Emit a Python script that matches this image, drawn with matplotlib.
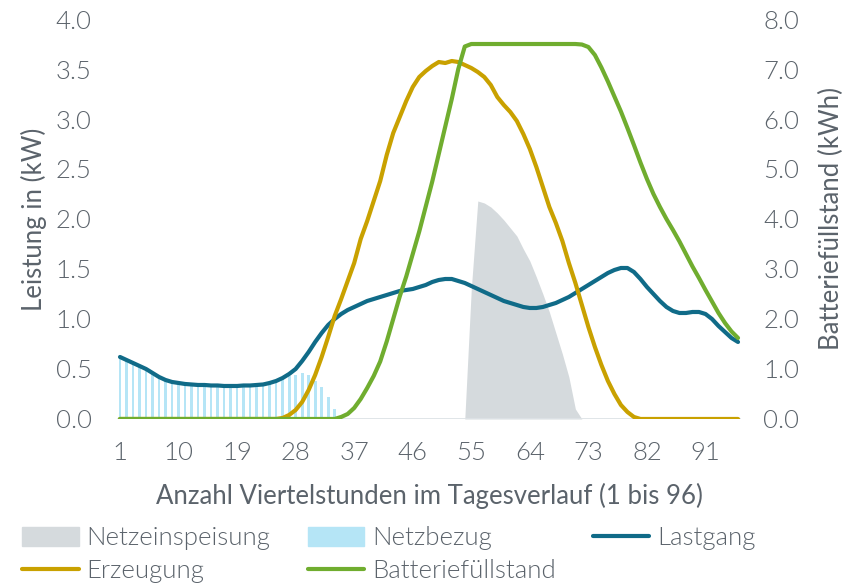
import numpy as np
import matplotlib
matplotlib.use("Agg")
import matplotlib.pyplot as plt
from matplotlib.patches import Patch
from matplotlib.lines import Line2D

plt.rcParams['font.family'] = ['Lato', 'DejaVu Sans']
plt.rcParams['font.weight'] = 300

viertelstunden = list(range(1, 97))
tick_labels = [1, 10, 19, 28, 37, 46, 55, 64, 73, 82, 91]

lastgang = [
    0.62, 0.59, 0.56, 0.53, 0.50, 0.46, 0.42, 0.39, 0.37, 0.36,
    0.35, 0.345, 0.34, 0.34, 0.335, 0.335, 0.33, 0.33, 0.33, 0.335,
    0.335, 0.34, 0.345, 0.36, 0.38, 0.41, 0.45, 0.50, 0.58, 0.67,
    0.77, 0.86, 0.94, 1.00, 1.05, 1.09, 1.12, 1.15, 1.18, 1.20,
    1.22, 1.24, 1.26, 1.28, 1.29, 1.30, 1.32, 1.34, 1.37, 1.39,
    1.40, 1.40, 1.38, 1.36, 1.33, 1.30, 1.27, 1.24, 1.21, 1.18,
    1.16, 1.14, 1.12, 1.11, 1.11, 1.12, 1.14, 1.16, 1.19, 1.22,
    1.26, 1.30, 1.34, 1.38, 1.42, 1.46, 1.49, 1.51, 1.51, 1.47,
    1.40, 1.32, 1.25, 1.18, 1.12, 1.08, 1.06, 1.06, 1.07, 1.07,
    1.05, 1.00, 0.93, 0.87, 0.81, 0.77,
]

erzeugung = [0.0] * 25 + [
    0.01, 0.04, 0.09, 0.17, 0.29, 0.44, 0.62, 0.82, 1.03, 1.20,
    1.38, 1.56, 1.80, 1.98, 2.18, 2.38, 2.64, 2.86, 3.02, 3.18,
    3.32, 3.42, 3.48, 3.53, 3.57, 3.56, 3.58, 3.57, 3.54, 3.51,
    3.47, 3.42, 3.34, 3.22, 3.14, 3.07, 2.98, 2.85, 2.70, 2.52,
    2.32, 2.12, 1.96, 1.78, 1.56, 1.36, 1.14, 0.92, 0.72, 0.54,
    0.38, 0.25, 0.14, 0.07, 0.02,
] + [0.0] * 16

batterie = [0.0] * 34 + [
    0.04, 0.10, 0.22, 0.40, 0.62, 0.86, 1.15, 1.55, 2.00, 2.45,
    2.85, 3.30, 3.75, 4.25, 4.75, 5.30, 5.85, 6.40, 7.00, 7.45,
    7.50, 7.50, 7.50, 7.50, 7.50, 7.50, 7.50, 7.50, 7.50, 7.50,
    7.50, 7.50, 7.50, 7.50, 7.50, 7.50, 7.50, 7.49, 7.44, 7.28,
    7.03, 6.75, 6.45, 6.15, 5.82, 5.48, 5.13, 4.80, 4.50, 4.24,
    4.00, 3.78, 3.55, 3.30, 3.05, 2.82, 2.58, 2.35, 2.12, 1.92,
    1.75, 1.62,
]

netzbezug = [
    0.62, 0.59, 0.56, 0.53, 0.50, 0.46, 0.42, 0.39, 0.37, 0.36,
    0.35, 0.345, 0.34, 0.34, 0.335, 0.335, 0.33, 0.33, 0.33, 0.335,
    0.335, 0.34, 0.345, 0.36, 0.38, 0.41, 0.43, 0.44, 0.46, 0.44,
    0.38, 0.32, 0.22, 0.10,
] + [0.0] * 62

netzeinspeisung = [0.0] * 54 + [
    1.30, 2.18, 2.16, 2.12, 2.06, 1.99, 1.91, 1.83, 1.70, 1.58,
    1.42, 1.25, 1.07, 0.86, 0.65, 0.42, 0.10,
] + [0.0] * 25

c_text = '#5b636b'
c_last = '#106b88'
c_erz = '#c9a100'
c_batt = '#70ad2f'
c_einsp = '#d5dadd'
c_bezug = '#b5e5f6'
fs = 18.5

fig = plt.figure(figsize=(8.54, 5.85), dpi=100)
ax = fig.add_axes([0.1367, 0.2838, 0.7313, 0.6837])
ax2 = ax.twinx()

x = np.array(viertelstunden)
ax.fill_between(x, netzeinspeisung, 0, color=c_einsp, lw=0, zorder=1)
ax.bar(x, netzbezug, width=0.42, color=c_bezug, zorder=2)
ax.axhline(0, color='#dde2e6', lw=2, zorder=2)
ax.plot(x, lastgang, color=c_last, lw=3, solid_capstyle='round', zorder=3)
ax.plot(x, erzeugung, color=c_erz, lw=3, solid_capstyle='round', zorder=4)
ax2.plot(x, batterie, color=c_batt, lw=3, solid_capstyle='round', zorder=5)

ax.set_xlim(0.5, 96.5)
ax.set_ylim(0, 4)
ax2.set_ylim(0, 8)
ax.set_xticks(tick_labels)
ax.set_xticklabels([str(t) for t in tick_labels])
ax.set_yticks(np.arange(0, 4.01, 0.5))
ax.set_yticklabels([f"{v:.1f}" for v in np.arange(0, 4.01, 0.5)])
ax2.set_yticks(np.arange(0, 8.01, 1))
ax2.set_yticklabels([f"{v:.1f}" for v in np.arange(0, 8.01, 1)])

for a in (ax, ax2):
    for s in a.spines.values():
        s.set_visible(False)
    a.tick_params(length=0, labelsize=fs, labelcolor=c_text)
ax.tick_params(axis='y', pad=18)
ax.tick_params(axis='x', pad=16)
ax2.tick_params(axis='y', pad=16)

ax.set_xlabel("Anzahl Viertelstunden im Tagesverlauf (1 bis 96)", fontsize=fs, color=c_text, labelpad=13)
ax.set_ylabel("Leistung in (kW)", fontsize=fs, color=c_text, labelpad=6)
ax2.set_ylabel("Batteriefüllstand (kWh)", fontsize=fs, color=c_text, labelpad=14)

handles = [
    Patch(color=c_einsp), Line2D([], [], color=c_erz, lw=3, solid_capstyle='round'),
    Patch(color=c_bezug), Line2D([], [], color=c_batt, lw=3, solid_capstyle='round'),
    Line2D([], [], color=c_last, lw=3, solid_capstyle='round'),
]
labels = ["Netzeinspeisung", "Erzeugung", "Netzbezug", "Batteriefüllstand", "Lastgang"]
leg = fig.legend(handles, labels, ncol=3, loc='upper left', bbox_to_anchor=(0.026, 0.1),
                 frameon=False, fontsize=fs, handlelength=2.2, handleheight=0.75, handletextpad=0.3,
                 columnspacing=1.45, labelspacing=0.35, borderpad=0, borderaxespad=0)
for t in leg.get_texts():
    t.set_color(c_text)

fig.savefig("out.png", dpi=100)
